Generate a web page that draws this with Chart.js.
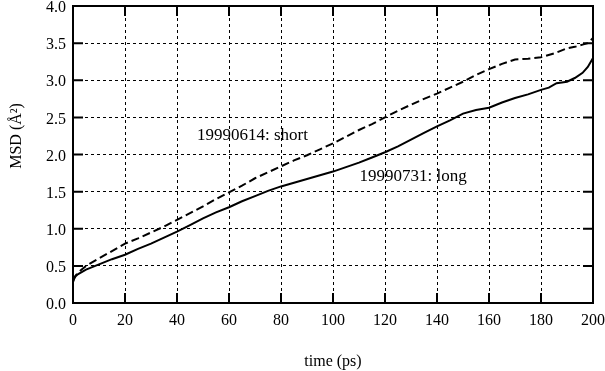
<!DOCTYPE html>
<html>
<head>
<meta charset="utf-8">
<script src="https://cdn.jsdelivr.net/npm/chart.js@4/dist/chart.umd.min.js"></script>
<style>
  html, body { margin: 0; padding: 0; background: #fff; }
  #wrap { width: 605px; height: 371px; }
</style>
</head>
<body>
<div id="wrap"><canvas id="msdChart" width="605" height="371"></canvas></div>
<script>
// time (ps) and MSD values
var timeLong = [0, 0.5, 1, 2, 3, 5, 10, 15, 20, 25, 30, 35, 40, 45, 50, 55, 60, 65, 70, 75, 80, 85, 90, 95, 100,
  105, 110, 115, 120, 125, 130, 135, 140, 145, 150, 155, 160, 165, 170, 175, 180, 183, 186, 190, 193, 196, 198, 200];
var msdLong = [0.28, 0.33, 0.36, 0.39, 0.41, 0.45, 0.52, 0.59, 0.65, 0.73, 0.80, 0.88, 0.96, 1.05, 1.14, 1.22, 1.29, 1.37, 1.44, 1.51, 1.57, 1.62, 1.67, 1.72, 1.77,
  1.83, 1.89, 1.96, 2.03, 2.11, 2.20, 2.29, 2.38, 2.46, 2.55, 2.60, 2.63, 2.70, 2.76, 2.81, 2.87, 2.90, 2.96, 2.98, 3.03, 3.10, 3.18, 3.30];

var timeShort = [0, 0.5, 1, 2, 3, 5, 10, 15, 20, 25, 30, 35, 40, 45, 50, 55, 60, 65, 70, 75, 80, 85, 90, 95, 100,
  105, 110, 115, 120, 125, 130, 135, 140, 145, 150, 155, 160, 165, 170, 175, 180, 185, 190, 193, 196, 198, 200];
var msdShort = [0.30, 0.34, 0.37, 0.41, 0.44, 0.50, 0.60, 0.70, 0.80, 0.87, 0.95, 1.03, 1.12, 1.21, 1.30, 1.40, 1.49, 1.58, 1.68, 1.76, 1.84, 1.92, 1.99, 2.07, 2.15,
  2.24, 2.33, 2.41, 2.50, 2.59, 2.67, 2.75, 2.82, 2.90, 2.98, 3.07, 3.15, 3.22, 3.28, 3.29, 3.31, 3.36, 3.43, 3.45, 3.48, 3.50, 3.57];

var xTicks = [0, 20, 40, 60, 80, 100, 120, 140, 160, 180, 200];
var yTicks = [0.0, 0.5, 1.0, 1.5, 2.0, 2.5, 3.0, 3.5, 4.0];

// labels written inside the plot: [text, time, msd]
var seriesLabels = [
  ['19990614: short', 47.7, 2.26],
  ['19990731: long', 110.2, 1.70]
];

var FONT = 'Liberation Serif';

function toPoints(xs, ys) {
  var pts = [];
  for (var i = 0; i < xs.length; i++) pts.push({ x: xs[i], y: ys[i] });
  return pts;
}

// frame, inward tick marks, y title and the text labels
var framePlugin = {
  id: 'frame',
  afterDatasetsDraw: function (chart) {
    var ctx = chart.ctx;
    var a = chart.chartArea;
    var xs = chart.scales.x, ys = chart.scales.y;
    var len = 10;
    ctx.save();
    ctx.strokeStyle = '#000';
    ctx.lineWidth = 2;
    ctx.beginPath();
    xTicks.forEach(function (t) {
      var px = xs.getPixelForValue(t);
      ctx.moveTo(px, a.bottom); ctx.lineTo(px, a.bottom - len);
      ctx.moveTo(px, a.top); ctx.lineTo(px, a.top + len);
    });
    yTicks.forEach(function (t) {
      var py = ys.getPixelForValue(t);
      ctx.moveTo(a.left, py); ctx.lineTo(a.left + len, py);
      ctx.moveTo(a.right, py); ctx.lineTo(a.right - len, py);
    });
    ctx.stroke();
    ctx.strokeRect(a.left, a.top, a.right - a.left, a.bottom - a.top);

    ctx.fillStyle = '#000';
    ctx.font = '17px "' + FONT + '"';
    ctx.textBaseline = 'middle';
    ctx.textAlign = 'left';
    seriesLabels.forEach(function (l) {
      ctx.fillText(l[0], xs.getPixelForValue(l[1]), ys.getPixelForValue(l[2]));
    });

    // y axis title, sits a little above the middle in the original
    ctx.font = '16px "' + FONT + '"';
    ctx.textAlign = 'center';
    ctx.translate(17, ys.getPixelForValue(2.25));
    ctx.rotate(-Math.PI / 2);
    ctx.fillText('MSD (Å²)', 0, 0);
    ctx.restore();
  }
};

var ctx = document.getElementById('msdChart').getContext('2d');
var chart = new Chart(ctx, {
  type: 'line',
  data: {
    datasets: [{
      label: '19990614: short',
      data: toPoints(timeShort, msdShort),
      borderColor: '#000',
      borderWidth: 2,
      borderDash: [8, 4],
      pointRadius: 0,
      tension: 0,
      fill: false
    }, {
      label: '19990731: long',
      data: toPoints(timeLong, msdLong),
      borderColor: '#000',
      borderWidth: 2,
      pointRadius: 0,
      tension: 0,
      fill: false
    }]
  },
  options: {
    responsive: false,
    animation: false,
    layout: { padding: { left: 0, right: 12, top: 6, bottom: 0 } },
    plugins: {
      legend: { display: false },
      tooltip: { enabled: false }
    },
    scales: {
      x: {
        type: 'linear',
        min: 0,
        max: 200,
        afterBuildTicks: function (s) { s.ticks = xTicks.map(function (v) { return { value: v }; }); },
        afterFit: function (s) { s.height = 68; s.paddingLeft = 0; s.paddingRight = 0; },
        grid: { color: '#000', lineWidth: 1, drawTicks: false },
        border: { display: false, dash: [3, 3] },
        ticks: { color: '#000', padding: 8, font: { family: FONT, size: 16 }, maxRotation: 0 },
        title: { display: true, text: 'time (ps)', color: '#000', padding: 0, font: { family: FONT, size: 16 } }
      },
      y: {
        min: 0,
        max: 4,
        afterBuildTicks: function (s) { s.ticks = yTicks.map(function (v) { return { value: v }; }); },
        afterFit: function (s) { s.width = 73; s.paddingTop = 0; s.paddingBottom = 0; },
        grid: { color: '#000', lineWidth: 1, drawTicks: false },
        border: { display: false, dash: [3, 3] },
        ticks: {
          color: '#000', padding: 7, labelOffset: 2, font: { family: FONT, size: 16 },
          callback: function (v) { return v.toFixed(1); }
        },
        title: { display: false }
      }
    }
  },
  plugins: [framePlugin]
});
</script>
</body>
</html>
